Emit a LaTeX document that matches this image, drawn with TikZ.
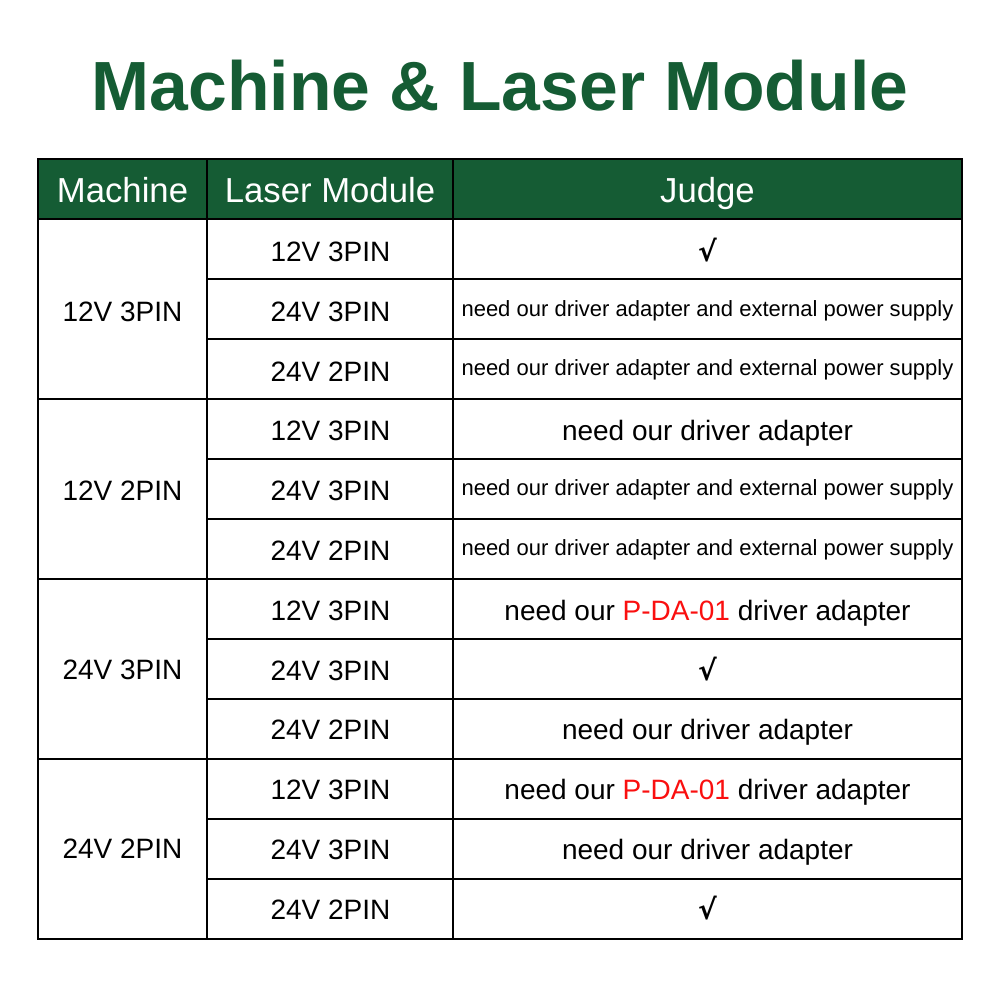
\documentclass[tikz,border=0pt]{standalone}
\usepackage{fontspec}
\setmainfont{Liberation Sans}
\definecolor{hdr}{HTML}{155C34}
\definecolor{redt}{HTML}{FA0F0F}
\newfontfamily\symf{DejaVu Sans}
\newlength{\ux}\setlength{\ux}{0.01cm}
\tikzset{x=0.01cm,y=-0.01cm,
 cell/.style={inner sep=0pt,anchor=base,text=black},
 big/.style={cell,font=\fontsize{7.96}{9.5}\selectfont},
 small/.style={cell,font=\fontsize{6.26}{7.5}\selectfont},
 hd/.style={cell,text=white,font=\fontsize{9.87}{12}\selectfont},
 grid/.style={draw=black,line width=2\ux}}
\newcommand{\Sm}{need our driver adapter and external power supply}
\newcommand{\Md}{need our driver adapter}
\newcommand{\Pd}{need our \textcolor{redt}{P-DA-01} driver adapter}
\newcommand{\Ck}{{\bfseries\symf √}}
\begin{document}
\begin{tikzpicture}
\useasboundingbox (0,0) rectangle (1000,1000);
\fill[white] (0,0) rectangle (1000,1000);
\node[cell,text=hdr,font=\bfseries\fontsize{19.8}{24}\selectfont] (title) at (500,110) {Machine \& Laser Module};
\fill[hdr] (38,159) rectangle (962,219);
\draw[grid] (38,159) rectangle (962,939);
\draw[grid] (38,219) -- (962,219);
\foreach \y in {399,579,759} \draw[grid] (38,\y) -- (962,\y);
\foreach \y in {279,339,459,519,639,699,819,879} \draw[grid] (207,\y) -- (962,\y);
\draw[grid] (207,159) -- (207,939);
\draw[grid] (453,159) -- (453,939);
\node[hd] (h1) at (122.5,202) {Machine};
\node[hd] (h2) at (330,202) {Laser Module};
\node[hd] (h3) at (707.5,202) {Judge};
\node[big] (m1) at (122.5,321) {12V 3PIN};
\node[big] (m2) at (122.5,500) {12V 2PIN};
\node[big] (m3) at (122.5,679) {24V 3PIN};
\node[big] (m4) at (122.5,858) {24V 2PIN};
\foreach \y/\t/\n in {
 261/12V 3PIN/a,321/24V 3PIN/b,381/24V 2PIN/c,
 440/12V 3PIN/d,500/24V 3PIN/e,560/24V 2PIN/f,
 620/12V 3PIN/g,680/24V 3PIN/h,739/24V 2PIN/i,
 799/12V 3PIN/j,859/24V 3PIN/k,919/24V 2PIN/l}
 \node[big] (l\n) at (330.5,\y) {\t};
\node[big] (ja) at (707.5,261) {\Ck};
\node[small] (jb) at (707.5,316) {\Sm};
\node[small] (jc) at (707.5,375) {\Sm};
\node[big] (jd) at (707.5,440) {\Md};
\node[small] (je) at (707.5,495) {\Sm};
\node[small] (jf) at (707.5,555) {\Sm};
\node[big] (jg) at (707.5,620) {\Pd};
\node[big] (jh) at (707.5,680) {\Ck};
\node[big] (ji) at (707.5,739) {\Md};
\node[big] (jj) at (707.5,799) {\Pd};
\node[big] (jk) at (707.5,859) {\Md};
\node[big] (jl) at (707.5,919) {\Ck};
\end{tikzpicture}
\end{document}
